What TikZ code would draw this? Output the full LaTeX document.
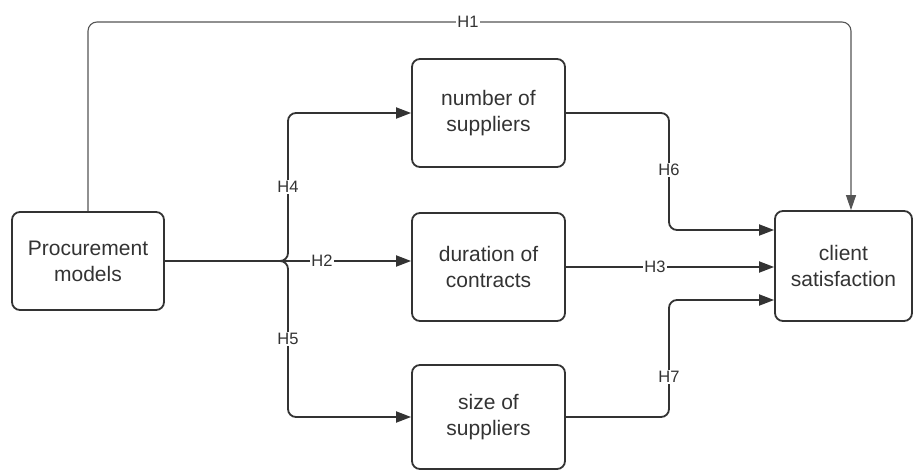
\documentclass[tikz,border=0pt]{standalone}
\usepackage{fontspec}
\setmainfont{Liberation Sans}
\usetikzlibrary{arrows.meta}
\definecolor{ink}{HTML}{333333}
\definecolor{thin}{HTML}{555555}
\begin{document}
\begin{tikzpicture}[x=1pt,y=-1pt,
  box/.style={draw=ink,line width=1.8pt,rounded corners=8pt,align=center,text=ink,
    font=\fontsize{21}{26}\selectfont,inner sep=0pt},
  arr/.style={draw=ink,line width=1.8pt,rounded corners=8pt,-{Triangle[length=15pt,width=11pt]}},
  h1line/.style={draw=thin,line width=1.1pt,rounded corners=9pt,-{Triangle[length=15pt,width=10pt]}},
  lab/.style={fill=white,text=ink,inner sep=1pt,font=\fontsize{16.5}{18}\selectfont}]
\useasboundingbox (0,0) rectangle (915,471);
\node[box,minimum width=152pt,minimum height=98pt] (proc) at (88,261) {Procurement\\models};
\node[box,minimum width=153pt,minimum height=108pt] (num) at (488.5,113) {number of\\suppliers};
\node[box,minimum width=153pt,minimum height=108pt] (dur) at (488.5,267) {duration of\\contracts};
\node[box,minimum width=153pt,minimum height=104pt] (size) at (488.5,417) {size of\\suppliers};
\node[box,minimum width=137pt,minimum height=110pt] (client) at (843.5,266) {client\\satisfaction};
\coordinate (top) at (851,22);
\coordinate (j) at (288,261);
\coordinate (k6) at (669,230);
\coordinate (k7) at (669,300);
% H1
\draw[h1line] (proc.north) |- (top) -- (top |- client.north);
% H4, H5
\draw[arr] (proc.east) -- (j) |- (num.west);
\draw[arr] (proc.east) -- (j) |- (size.west);
% H2
\draw[arr] (proc.east) -- (dur.west |- proc.east);
% H3
\draw[arr] (dur.east) -- (client.west |- dur.east);
% H6, H7
\draw[arr] (num.east) -| (k6) -- (client.west |- k6);
\draw[arr] (size.east) -| (k7) -- (client.west |- k7);
% labels
\node[lab] (l1) at (468,22) {H1};
\node[lab] (l2) at (322,261) {H2};
\node[lab] (l3) at (655,267) {H3};
\node[lab] (l4) at (288,187) {H4};
\node[lab] (l5) at (288,339) {H5};
\node[lab] (l6) at (669,170) {H6};
\node[lab] (l7) at (669,377) {H7};
\end{tikzpicture}
\end{document}
